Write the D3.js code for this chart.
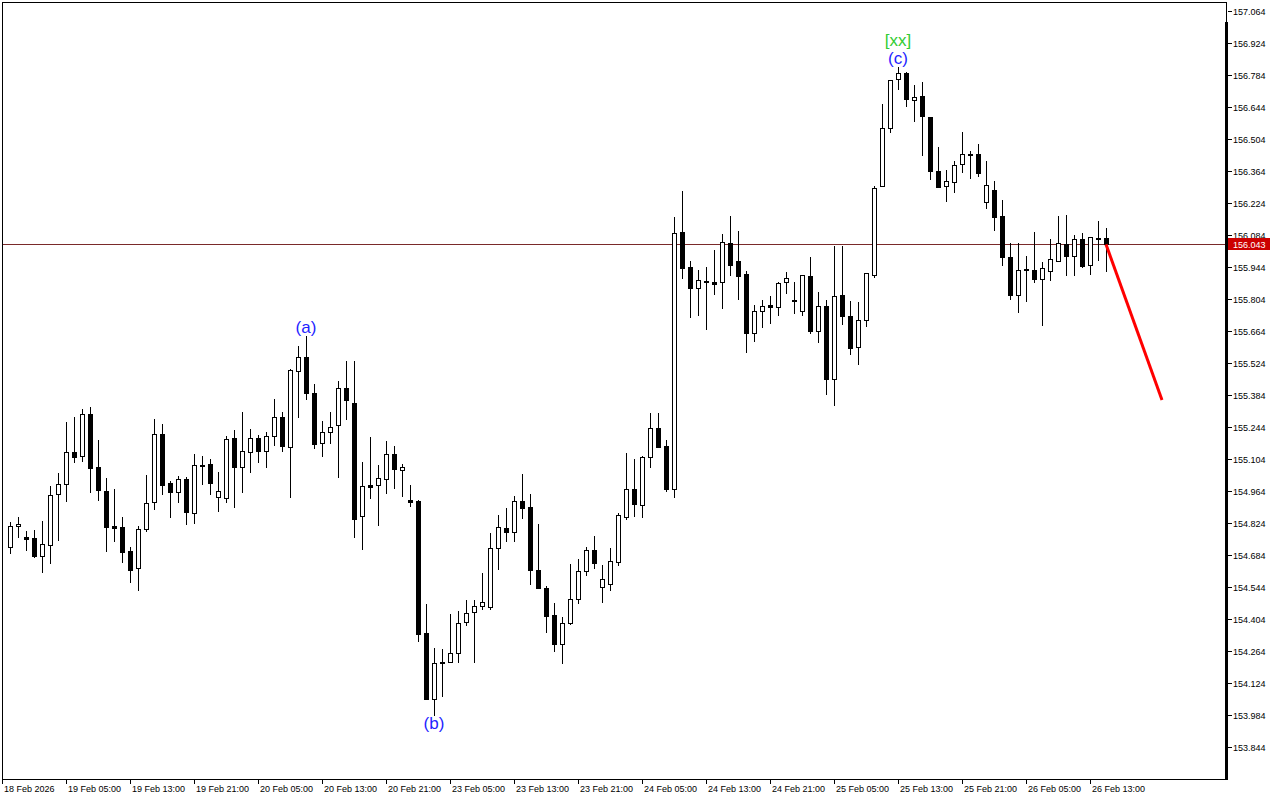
<!DOCTYPE html>
<html><head><meta charset="utf-8">
<script src="https://cdn.jsdelivr.net/npm/d3@7"></script>
<style>
html,body{margin:0;padding:0;background:#fff;}
svg{display:block;}
text{font-family:"Liberation Sans",Arial,sans-serif;}
</style></head>
<body><svg id="chart" width="1280" height="800"></svg>
<script>
const open = [154.718,154.810,154.763,154.758,154.681,154.726,154.950,154.993,155.135,155.116,
155.301,155.069,154.964,154.811,154.807,154.701,154.626,154.796,154.914,155.212,
154.998,154.958,155.015,154.866,155.076,155.081,154.936,154.932,155.195,155.068,
155.133,155.195,155.138,155.203,155.286,155.156,155.490,155.549,155.391,155.173,
155.221,155.251,155.413,155.349,154.853,154.989,154.989,155.015,155.126,155.057,
154.923,154.919,154.343,154.053,154.211,154.215,154.255,154.389,154.433,154.460,
154.458,154.713,154.801,154.783,154.919,154.893,154.618,154.540,154.421,154.296,
154.385,154.493,154.613,154.706,154.543,154.556,154.653,154.850,154.971,154.903,
155.112,155.238,155.160,154.971,156.096,155.943,155.851,155.881,155.878,155.877,
156.048,155.969,155.912,155.654,155.750,155.778,155.770,155.877,155.800,155.753,
155.903,155.663,155.773,155.455,155.821,155.730,155.593,155.711,155.909,156.297,
156.553,156.765,156.793,156.676,156.691,156.599,156.363,156.300,156.317,156.393,
156.437,156.437,156.227,156.281,156.167,155.986,155.823,155.932,155.930,155.893,
155.925,155.972,156.043,155.993,156.065,155.954,156.071,156.070];
const high = [154.827,154.850,154.789,154.793,154.833,154.985,155.043,155.266,155.288,155.323,
155.332,155.187,155.021,154.973,154.850,154.719,154.810,155.034,155.279,155.257,
155.008,155.030,155.024,155.126,155.117,155.103,155.046,155.205,155.231,155.310,
155.235,155.208,155.222,155.366,155.311,155.496,155.598,155.642,155.432,155.270,
155.310,155.444,155.533,155.533,155.090,155.200,155.076,155.183,155.161,155.083,
154.990,154.923,154.470,154.276,154.272,154.426,154.438,154.487,154.487,154.605,
154.780,154.859,154.888,154.942,155.038,154.951,154.820,154.548,154.474,154.413,
154.645,154.666,154.719,154.767,154.640,154.715,154.868,155.129,155.103,155.116,
155.304,155.304,155.187,156.161,156.276,155.970,155.931,155.944,156.018,156.088,
156.167,156.101,155.926,155.776,155.800,155.817,155.880,155.922,155.878,155.908,
155.988,155.835,155.800,156.037,156.037,155.795,155.790,155.916,156.300,156.656,
156.762,156.820,156.795,156.740,156.753,156.601,156.469,156.367,156.406,156.535,
156.451,156.482,156.408,156.320,156.237,156.048,156.048,155.992,156.096,155.965,
156.065,156.167,156.171,156.084,156.091,156.074,156.145,156.115];
const low = [154.694,154.764,154.707,154.677,154.611,154.650,154.751,154.922,155.092,155.097,
154.961,154.926,154.703,154.746,154.655,154.567,154.532,154.788,154.886,154.950,
154.851,154.917,154.821,154.825,154.996,154.950,154.878,154.917,154.893,154.961,
155.048,155.090,155.068,155.166,155.140,154.939,155.289,155.365,155.153,155.118,
155.173,155.024,155.280,154.764,154.709,154.932,154.814,154.956,154.976,154.943,
154.900,154.309,154.053,153.984,154.068,154.215,154.217,154.379,154.217,154.449,
154.449,154.621,154.746,154.746,154.847,154.557,154.541,154.347,154.265,154.213,
154.381,154.475,154.598,154.628,154.480,154.531,154.640,154.842,154.855,154.850,
155.068,155.158,154.965,154.939,155.897,155.726,155.735,155.674,155.827,155.766,
155.910,155.805,155.573,155.621,155.683,155.700,155.735,155.832,155.744,155.735,
155.656,155.614,155.390,155.340,155.693,155.565,155.521,155.685,155.902,156.297,
156.536,156.721,156.650,156.584,156.435,156.330,156.295,156.234,156.273,156.361,
156.335,156.343,156.203,156.107,155.953,155.805,155.747,155.797,155.880,155.690,
155.887,155.972,155.910,155.910,155.945,155.915,155.975,155.928];
const close = [154.810,154.818,154.755,154.681,154.731,154.945,154.993,155.133,155.114,155.301,
155.066,154.970,154.808,154.803,154.698,154.620,154.796,154.910,155.212,154.991,
154.961,155.015,154.871,155.076,155.073,154.998,154.963,155.191,155.068,155.138,
155.195,155.138,155.203,155.289,155.160,155.492,155.549,155.391,155.171,155.221,
155.245,155.413,155.363,154.843,154.985,154.983,155.019,155.124,155.059,155.069,
154.917,154.340,154.053,154.210,154.214,154.254,154.388,154.431,154.462,154.477,
154.713,154.805,154.783,154.919,154.891,154.620,154.541,154.418,154.296,154.386,
154.490,154.613,154.706,154.650,154.578,154.656,154.859,154.971,154.907,155.113,
155.238,155.158,154.971,156.091,155.941,155.851,155.886,155.877,155.871,156.052,
155.954,155.906,155.656,155.750,155.772,155.770,155.873,155.894,155.794,155.908,
155.665,155.773,155.455,155.817,155.728,155.591,155.711,155.916,156.288,156.551,
156.761,156.793,156.677,156.686,156.606,156.365,156.295,156.319,156.389,156.437,
156.436,156.356,156.301,156.164,155.986,155.823,155.930,155.934,155.893,155.938,
155.978,156.048,155.993,156.065,155.948,156.074,156.068,156.043];

const priceTicks = [157.064,156.924,156.784,156.644,156.504,156.364,156.224,156.084,155.944,155.804,
155.664,155.524,155.384,155.244,155.104,154.964,154.824,154.684,154.544,154.404,154.264,154.124,153.984,153.844];
const timeTickIndex = [-1,7,15,23,31,39,47,55,63,71,79,87,95,103,111,119,127,135];
const timeTickLabels = ["18 Feb 2026","19 Feb 05:00","19 Feb 13:00","19 Feb 21:00","20 Feb 05:00","20 Feb 13:00",
"20 Feb 21:00","23 Feb 05:00","23 Feb 13:00","23 Feb 21:00","24 Feb 05:00","24 Feb 13:00","24 Feb 21:00",
"25 Feb 05:00","25 Feb 13:00","25 Feb 21:00","26 Feb 05:00","26 Feb 13:00"];

const lastPrice = 156.043;
const forecastIndex = [137, 144];
const forecastPrice = [156.043, 155.362];

const waveLabels = ["(a)","(b)","(c)","[xx]"];
const waveIndex = [37, 53, 111, 111];
const wavePrice = [155.681, 153.949, 156.858, 156.937];
const waveColor = ["#1f1fff","#1f1fff","#1f1fff","#33cc33"];

(function draw() {
const svg = d3.select("#chart");
const pL = 2, pR = 1226, pT = 2, pB = 779;

const x = d3.scaleLinear().domain([-1, 152]).range([pL, pR]);
const y = d3.scaleLinear().domain([153.844, 157.064]).range([747, 11]);

// frame
svg.append("rect").attr("x", pL + 0.5).attr("y", pT + 0.5)
  .attr("width", pR - pL).attr("height", pB - pT)
  .attr("fill", "#fff").attr("stroke", "#000").attr("stroke-width", 1)
  .attr("shape-rendering", "crispEdges");
svg.append("line").attr("x1", pR + 0.5).attr("x2", pR + 0.5)
  .attr("y1", 22).attr("y2", pB + 1).attr("stroke", "#000").attr("stroke-width", 3)
  .attr("shape-rendering", "crispEdges");

// right axis
const ya = svg.append("g");
priceTicks.forEach(p => {
  const yy = Math.round(y(p)) + 0.5;
  ya.append("line").attr("x1", pR + 2).attr("x2", pR + 6).attr("y1", yy).attr("y2", yy)
    .attr("stroke", "#000").attr("shape-rendering", "crispEdges");
  ya.append("text").attr("x", pR + 7).attr("y", yy + 3.5).attr("font-size", 9)
    .attr("fill", "#000").text(p.toFixed(3));
});

// bottom axis
const xa = svg.append("g");
timeTickIndex.forEach((ti, k) => {
  const xx = Math.round(x(ti)) + 0.5;
  xa.append("line").attr("x1", xx).attr("x2", xx).attr("y1", pB + 1).attr("y2", pB + 5)
    .attr("stroke", "#000").attr("shape-rendering", "crispEdges");
  xa.append("text").attr("x", Math.round(x(ti)) + 2).attr("y", 792).attr("font-size", 9)
    .attr("fill", "#000").text(timeTickLabels[k]);
});

// current price line
const yLast = Math.round(y(lastPrice)) + 0.5;
svg.append("line").attr("x1", pL + 1).attr("x2", pR - 1).attr("y1", yLast).attr("y2", yLast)
  .attr("stroke", "#7a2a2a").attr("stroke-width", 1).attr("shape-rendering", "crispEdges");

// candles
const g = svg.append("g").attr("shape-rendering", "crispEdges");
open.forEach((o, i) => {
  const c = close[i];
  const cx = Math.round(x(i));
  const bull = c >= o;
  g.append("line").attr("x1", cx + 0.5).attr("x2", cx + 0.5)
    .attr("y1", Math.round(y(high[i]))).attr("y2", Math.round(y(low[i])) + 1)
    .attr("stroke", "#000");
  const yt = Math.round(y(Math.max(o, c)));
  const yb = Math.round(y(Math.min(o, c)));
  g.append("rect").attr("x", cx - 1.5).attr("y", yt + 0.5)
    .attr("width", 4).attr("height", Math.max(0, yb - yt))
    .attr("fill", bull ? "#fff" : "#000").attr("stroke", "#000").attr("stroke-width", 1);
});

// forecast line
svg.append("line")
  .attr("x1", x(forecastIndex[0])).attr("y1", y(forecastPrice[0]))
  .attr("x2", x(forecastIndex[1])).attr("y2", y(forecastPrice[1]))
  .attr("stroke", "#ff0000").attr("stroke-width", 3);

// wave labels
waveLabels.forEach((t, k) => {
  svg.append("text").attr("x", x(waveIndex[k])).attr("y", y(wavePrice[k]) + 6)
    .attr("text-anchor", "middle").attr("font-size", 17)
    .attr("font-family", "DejaVu Sans, sans-serif")
    .attr("fill", waveColor[k]).text(t);
});

// last price tag
svg.append("rect").attr("x", pR + 2).attr("y", yLast - 6.5).attr("width", 42).attr("height", 12)
  .attr("fill", "#cc0000");
svg.append("text").attr("x", pR + 7).attr("y", yLast + 3.5).attr("font-size", 9)
  .attr("fill", "#fff").text(lastPrice.toFixed(3));
})();
</script></body></html>
